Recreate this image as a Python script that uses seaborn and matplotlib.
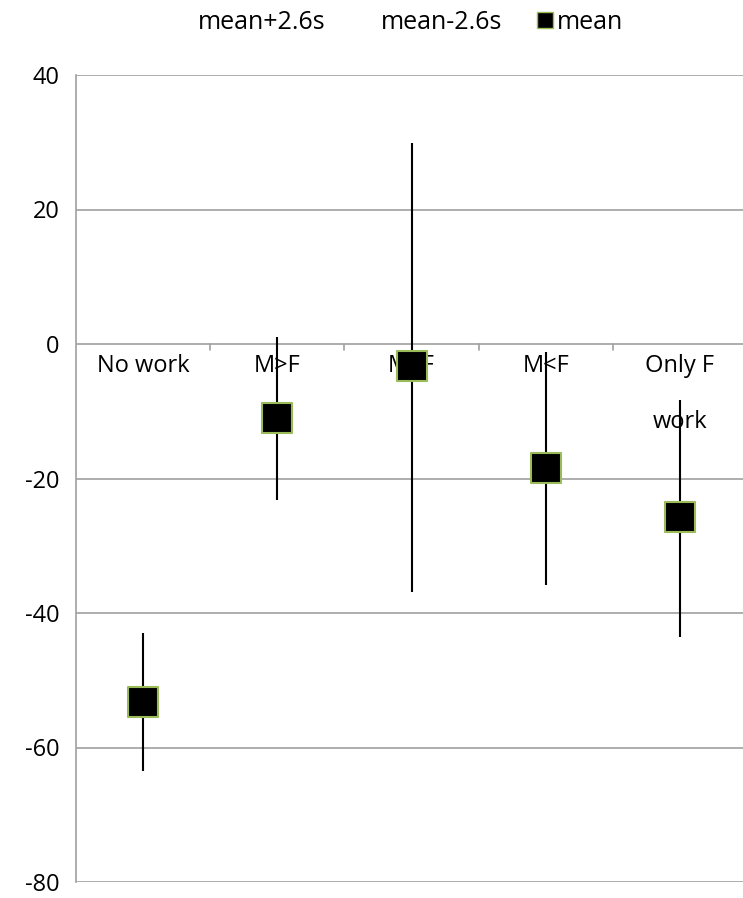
import matplotlib
matplotlib.use('Agg')
import matplotlib.pyplot as plt
import matplotlib.lines as mlines
import seaborn as sns
import pandas as pd

categories = ['No work', 'M>F', 'M=F', 'M<F', 'Only F\nwork']
mean = [-53.2, -11.0, -3.3, -18.4, -25.7]
upper = [-43.0, 1.0, 29.9, -1.2, -8.3]
lower = [-63.5, -23.2, -36.9, -35.8, -43.6]

sns.set_style('white')
plt.rcParams['font.family'] = ['Open Sans', 'DejaVu Sans']
plt.rcParams['axes.unicode_minus'] = False
plt.rcParams['text.color'] = 'black'

df = pd.DataFrame({'x': range(len(categories)), 'mean': mean})

fig = plt.figure(figsize=(7.43, 8.98), dpi=100)
ax = fig.add_axes([76/743, 16/898, 671/743, 807/898])

ax.set_ylim(-80, 40)
ax.set_xlim(-0.5, 4.5)
ax.set_yticks(range(-80, 41, 20))
ax.yaxis.grid(True, color='#a0a0a0', lw=1.2)
ax.set_axisbelow(True)
for s in ['top', 'right', 'bottom']:
    ax.spines[s].set_visible(False)
ax.spines['left'].set_color('#a0a0a0')
ax.spines['left'].set_linewidth(1.2)
ax.tick_params(axis='y', length=6, color='#a0a0a0', labelsize=17, pad=6,
               direction='out', labelcolor='black')
ax.set_xticks([])

# category ticks hanging from zero line
for b in [0.5, 1.5, 2.5, 3.5]:
    ax.plot([b, b], [0, -0.9], color='#a0a0a0', lw=1.2, zorder=1)

for i, c in enumerate(categories):
    ax.text(i, -1.5, c, ha='center', va='top', fontsize=17, linespacing=2.75, zorder=2)

ax.vlines(df['x'], lower, upper, color='black', lw=1.5, zorder=3)
sns.scatterplot(data=df, x='x', y='mean', marker='s', s=450, color='black',
                edgecolor='#9bbb59', linewidth=1.5, zorder=4, ax=ax, legend=False)
ax.set_xlabel('')
ax.set_ylabel('')

h1 = mlines.Line2D([], [], linestyle='none', label='mean+2.6s')
h2 = mlines.Line2D([], [], linestyle='none', label='mean-2.6s')
h3 = mlines.Line2D([], [], linestyle='none', marker='s', markersize=11, color='black',
                   markeredgecolor='#9bbb59', label='mean')
fig.legend(handles=[h1, h2, h3], loc='center', bbox_to_anchor=(0.538, 0.975), ncol=3,
           frameon=False, fontsize=18, handlelength=0.8, handletextpad=0.1, columnspacing=1.3)

fig.savefig('out.png', dpi=100)
